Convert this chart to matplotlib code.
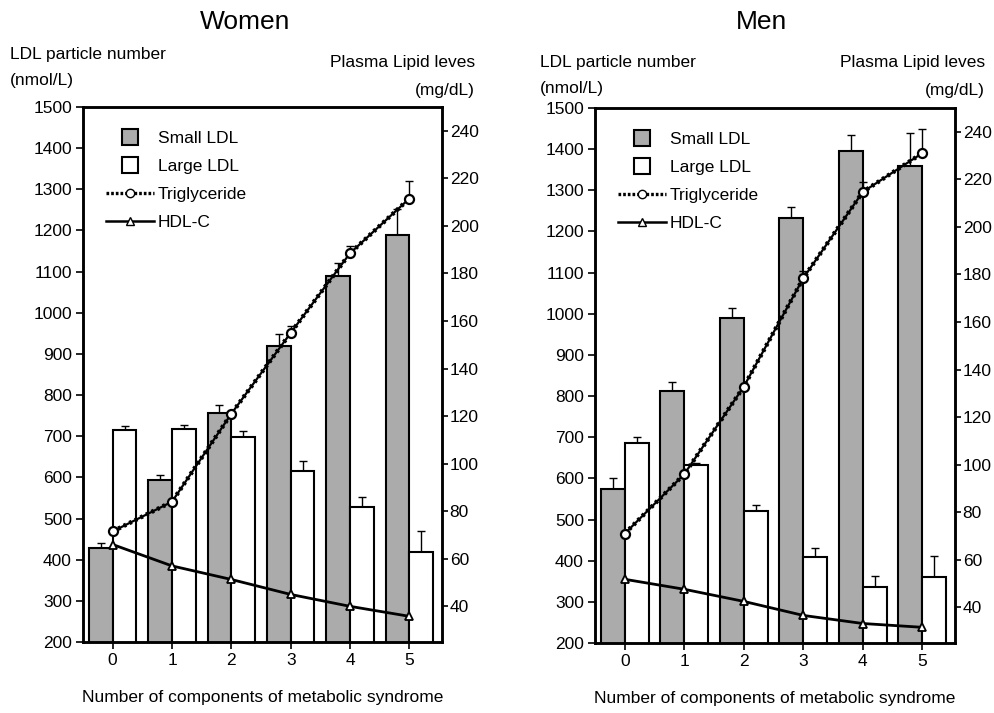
import matplotlib

matplotlib.use("Agg")

import matplotlib.pyplot as plt
import numpy as np
from matplotlib.lines import Line2D

plt.rcParams["font.family"] = ["Liberation Sans", "DejaVu Sans"]

components = [0, 1, 2, 3, 4, 5]

# Women
w_small = [428, 593, 757, 920, 1090, 1188]
w_small_err = [12, 12, 18, 28, 30, 65]
w_large = [715, 718, 697, 616, 527, 418]
w_large_err = [10, 10, 15, 25, 26, 52]
w_tg = [71.5, 84, 121, 155, 188.5, 211.5]
w_tg_err = [0, 0, 0, 3, 3, 7.5]
w_hdl = [66, 57, 51.3, 45, 40, 35.8]

# Men
m_small = [574, 812, 990, 1233, 1396, 1360]
m_small_err = [27, 22, 24, 27, 39, 80]
m_large = [686, 632, 521, 409, 336, 360]
m_large_err = [14, 6, 14, 22, 27, 52]
m_tg = [71, 96, 132.8, 178.4, 214.7, 231]
m_tg_err = [0, 0, 0, 3, 4, 10]
m_hdl = [51.8, 47.6, 42.5, 36.6, 33.2, 31.6]

FS = 12.5
GRAY = "#ababab"

fig = plt.figure(figsize=(9.95, 7.13), dpi=100)


def panel(rect, small, small_err, large, large_err, tg, tg_err, hdl):
    ax = fig.add_axes(rect)
    x = np.asarray(components, dtype=float)
    w = 0.4
    ax.bar(x - w / 2, small, width=w, color=GRAY, edgecolor="black", linewidth=1.5, zorder=2)
    ax.bar(x + w / 2, large, width=w, color="white", edgecolor="black", linewidth=1.5, zorder=2)
    zeros = np.zeros(len(x))
    ax.errorbar(x - w / 2, small, yerr=[zeros, small_err], fmt="none", ecolor="black",
                elinewidth=1, capsize=3, capthick=1, zorder=1)
    ax.errorbar(x + w / 2, large, yerr=[zeros, large_err], fmt="none", ecolor="black",
                elinewidth=1, capsize=3, capthick=1, zorder=1)
    ax.set_ylim(200, 1500)
    ax.set_xlim(-0.5, 5.55)
    ax.set_yticks(range(200, 1501, 100))
    ax.set_xticks(components)
    ax.tick_params(labelsize=FS, width=1.2, length=5, pad=3)
    for s in ax.spines.values():
        s.set_linewidth(1.8)
    ax.set_xlabel("Number of components of metabolic syndrome", fontsize=FS, labelpad=16)

    ax2 = ax.twinx()
    ax2.set_ylim(25, 250)
    ax2.set_yticks(range(40, 241, 20))
    ax2.tick_params(labelsize=FS, width=1.2, length=4, pad=1.5)
    for s in ax2.spines.values():
        s.set_linewidth(1.8)
    ax2.errorbar(x, tg, yerr=[zeros, tg_err], fmt="none", ecolor="black",
                 elinewidth=1, capsize=3, capthick=1, zorder=3)
    ax2.plot(x, tg, color="black", linewidth=1.6, zorder=4)
    ax2.plot(x, tg, color="black", linewidth=3.2, linestyle=(0, (0.6, 0.8)), zorder=4)
    ax2.plot(x, tg, linestyle="none", marker="o", markersize=6.5, markerfacecolor="white",
             markeredgecolor="black", markeredgewidth=1.6, zorder=5)
    ax2.plot(x, hdl, color="black", linewidth=2, marker="^", markersize=6,
             markerfacecolor="white", markeredgecolor="black", markeredgewidth=1.3, zorder=5)

    handles = [
        Line2D([], [], linestyle="none", marker="s", markersize=11, markerfacecolor=GRAY,
               markeredgecolor="black", markeredgewidth=1.5),
        Line2D([], [], linestyle="none", marker="s", markersize=11, markerfacecolor="white",
               markeredgecolor="black", markeredgewidth=1.5),
        Line2D([], [], color="black", linewidth=2.4, linestyle=(0, (0.8, 0.6)), marker="o",
               markersize=6, markerfacecolor="white", markeredgecolor="black"),
        Line2D([], [], color="black", linewidth=1.8, marker="^", markersize=6,
               markerfacecolor="white", markeredgecolor="black"),
    ]
    labels = ["Small LDL", "Large LDL", "Triglyceride", "HDL-C"]
    ax2.legend(handles, labels, loc="upper left", bbox_to_anchor=(0.02, 0.985), frameon=False,
               fontsize=FS, handlelength=2.8, handletextpad=0.2, labelspacing=0.75)
    return ax, ax2


rect_w = (83 / 995, 71 / 713, 359 / 995, 535 / 713)
rect_m = (595 / 995, 70 / 713, 360 / 995, 535 / 713)

panel(rect_w, w_small, w_small_err, w_large, w_large_err, w_tg, w_tg_err, w_hdl)
panel(rect_m, m_small, m_small_err, m_large, m_large_err, m_tg, m_tg_err, m_hdl)


def ftext(px, py, s, size=FS, ha="left"):
    fig.text(px / 995, 1 - py / 713, s, fontsize=size, ha=ha, va="center")


ftext(245, 22, "Women", size=19, ha="center")
ftext(762, 22, "Men", size=19, ha="center")
ftext(10, 54, "LDL particle number")
ftext(10, 80, "(nmol/L)")
ftext(475, 62, "Plasma Lipid leves", ha="right")
ftext(475, 91, "(mg/dL)", ha="right")
ftext(540, 63, "LDL particle number")
ftext(540, 88, "(nmol/L)")
ftext(985, 63, "Plasma Lipid leves", ha="right")
ftext(985, 90, "(mg/dL)", ha="right")

fig.savefig("out.png", dpi=100)
